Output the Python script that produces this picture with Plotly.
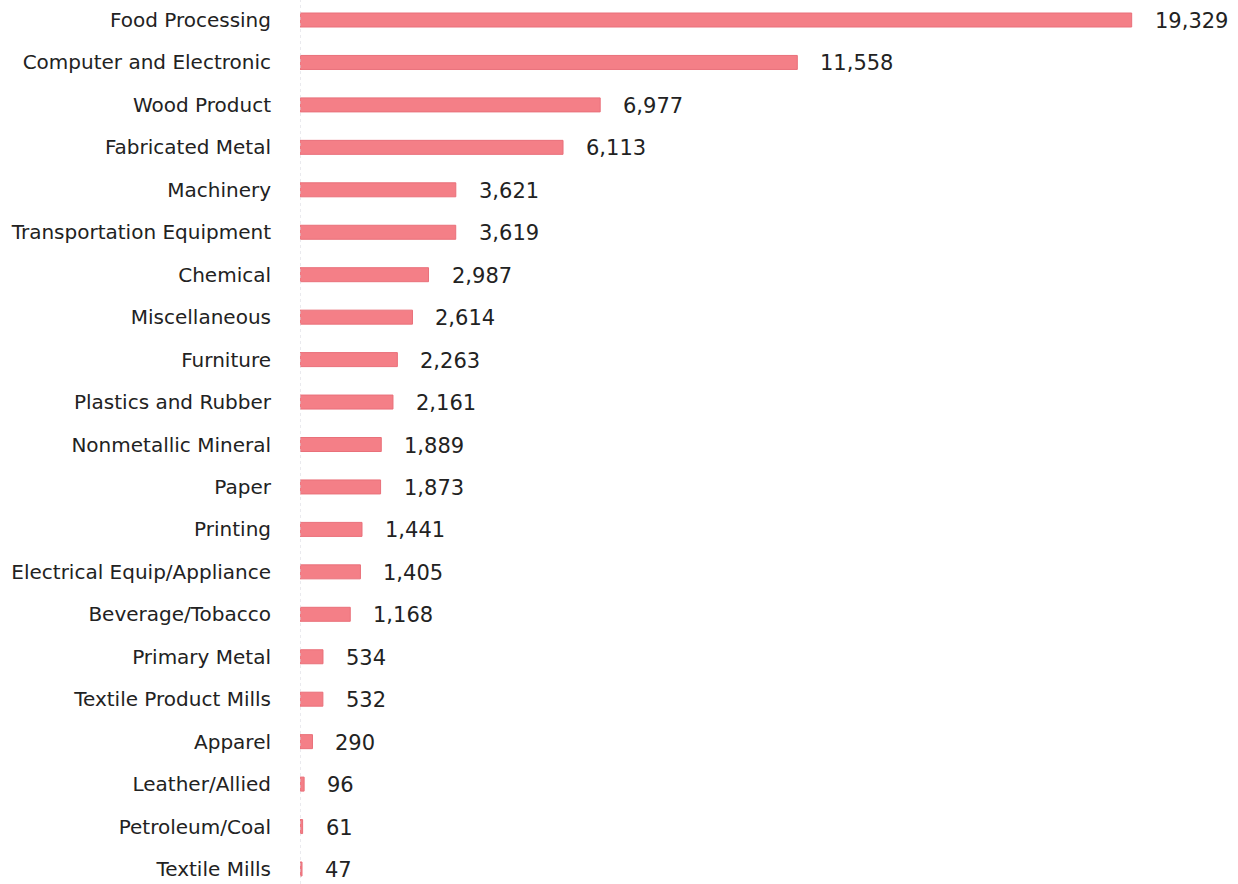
import plotly.graph_objects as go

industries = [
    "Food Processing", "Computer and Electronic", "Wood Product", "Fabricated Metal",
    "Machinery", "Transportation Equipment", "Chemical", "Miscellaneous", "Furniture",
    "Plastics and Rubber", "Nonmetallic Mineral", "Paper", "Printing",
    "Electrical Equip/Appliance", "Beverage/Tobacco", "Primary Metal",
    "Textile Product Mills", "Apparel", "Leather/Allied", "Petroleum/Coal", "Textile Mills",
]
values = [19329, 11558, 6977, 6113, 3621, 3619, 2987, 2614, 2263, 2161, 1889, 1873,
          1441, 1405, 1168, 534, 532, 290, 96, 61, 47]

FONT = "DejaVu Sans"

fig = go.Figure(go.Bar(
    x=values, y=industries, orientation="h",
    marker=dict(color="#f47f87", line=dict(color="#e9707a", width=1)),
    width=0.33,
    hoverinfo="x+y",
))

# value labels placed just to the right of each bar end
for name, v in zip(industries, values):
    fig.add_annotation(x=v, y=name, text=f"{v:,}", showarrow=False,
                       xanchor="left", xshift=21, yshift=-1,
                       font=dict(family=FONT, size=21, color="#222222"))

# faint dotted baseline at zero
fig.add_shape(type="line", xref="x", yref="paper", x0=0, x1=0, y0=0, y1=1,
              line=dict(color="#d6d6de", width=1, dash="dot"))

fig.update_layout(
    width=1238, height=884,
    margin=dict(l=300, r=0, t=0, b=0),
    paper_bgcolor="white", plot_bgcolor="white",
    showlegend=False,
    xaxis=dict(range=[0, 21800], visible=False, fixedrange=True),
    yaxis=dict(
        categoryorder="array", categoryarray=industries,
        range=[(884 - 20) / 42.45, -20 / 42.45],
        showgrid=False, zeroline=False, showline=False, ticks="",
        ticklabelstandoff=28,
        tickfont=dict(family=FONT, size=20, color="#222222"),
    ),
)

fig.write_html("out.html")
